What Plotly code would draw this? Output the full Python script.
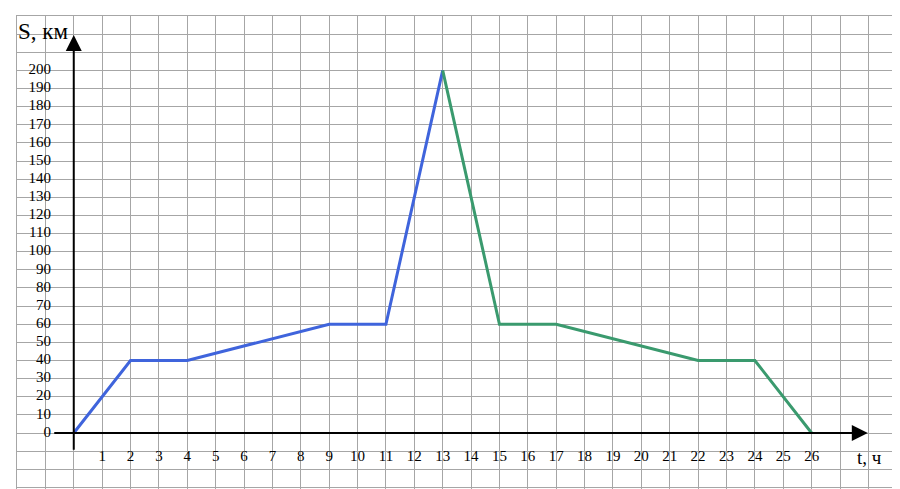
import plotly.graph_objects as go

# Data
t_first = [0, 2, 4, 9, 11, 13]
s_first = [0, 40, 40, 60, 60, 200]
t_second = [13, 15, 17, 22, 24, 26]
s_second = [200, 60, 60, 40, 40, 0]

x_tick_vals = list(range(1, 27))
x_tick_text = [str(v) for v in x_tick_vals]
y_tick_vals = list(range(0, 201, 10))
y_tick_text = [str(v) for v in y_tick_vals]

FONT = "Liberation Serif, Times New Roman, serif"
GRID = "#a6a6a6"

fig = go.Figure()

fig.add_trace(go.Scatter(x=t_first, y=s_first, mode="lines",
                         line=dict(color="#3f64dc", width=3), hoverinfo="skip"))
fig.add_trace(go.Scatter(x=t_second, y=s_second, mode="lines",
                         line=dict(color="#3a9a6e", width=3), hoverinfo="skip"))

# y tick labels
fig.add_trace(go.Scatter(x=[-0.8] * len(y_tick_vals), y=y_tick_vals, text=y_tick_text,
                         mode="text", textposition="middle left",
                         textfont=dict(family=FONT, size=15, color="black"), hoverinfo="skip"))
# x tick labels
fig.add_trace(go.Scatter(x=x_tick_vals, y=[-13.5] * len(x_tick_vals), text=x_tick_text,
                         mode="text", textposition="middle center",
                         textfont=dict(family=FONT, size=15, color="black"), hoverinfo="skip"))

# axis arrows
fig.add_annotation(x=27.98, y=0, ax=-0.74, ay=0, xref="x", yref="y", axref="x", ayref="y",
                   text="", showarrow=True, arrowhead=2, arrowsize=1.6, arrowwidth=2,
                   arrowcolor="black")
fig.add_annotation(x=0, y=219.5, ax=0, ay=-10, xref="x", yref="y", axref="x", ayref="y",
                   text="", showarrow=True, arrowhead=2, arrowsize=1.6, arrowwidth=2,
                   arrowcolor="black")

# axis titles
fig.add_annotation(x=-1.1, y=221.5, xref="x", yref="y", text="S, км", showarrow=False,
                   font=dict(family=FONT, size=23, color="black"))
fig.add_annotation(x=28.05, y=-13.5, xref="x", yref="y", text="t, ч", showarrow=False,
                   font=dict(family=FONT, size=19, color="black"))

# page body has an 8px margin: compensate so the chart lands on the same pixels
BODY = 8
px_per_x = 28.38
x0 = -2.0
x1 = x0 + 883 / px_per_x
y1 = 230.0
px_per_y = (433 - 16) / 230.0
y0 = -(489 - 433) / px_per_y

fig.update_layout(
    width=900 - BODY, height=489 - BODY,
    margin=dict(l=17 - BODY, r=0, t=16 - BODY, b=0, pad=0),
    paper_bgcolor="white", plot_bgcolor="white",
    showlegend=False,
    xaxis=dict(range=[x0, x1], dtick=1, tick0=0, showgrid=True, gridcolor=GRID, gridwidth=1,
               zeroline=False, showticklabels=False, ticks="", showline=True, mirror=True,
               linecolor=GRID, linewidth=1, fixedrange=True),
    yaxis=dict(range=[y0, y1], dtick=10, tick0=0, showgrid=True, gridcolor=GRID, gridwidth=1,
               zeroline=False, showticklabels=False, ticks="", showline=True, mirror=True,
               linecolor=GRID, linewidth=1, fixedrange=True),
)

fig.write_html("out.html")
